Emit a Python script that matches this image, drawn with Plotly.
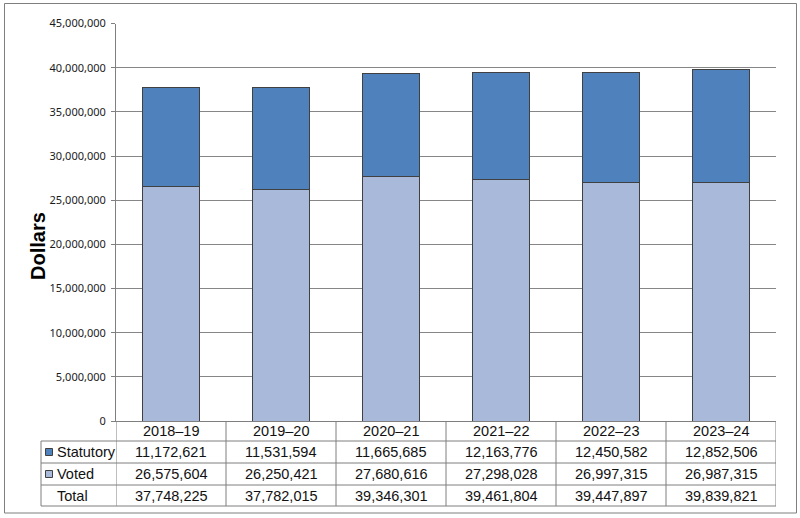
import plotly.graph_objects as go

years = ["2018–19", "2019–20", "2020–21", "2021–22", "2022–23", "2023–24"]
statutory = [11172621, 11531594, 11665685, 12163776, 12450582, 12852506]
voted = [26575604, 26250421, 27680616, 27298028, 26997315, 26987315]
total = [37748225, 37782015, 39346301, 39461804, 39447897, 39839821]
y_ticks = list(range(0, 45000001, 5000000))

W, H = 800, 518
C_STAT = "#4F81BD"
C_VOTED = "#A9B9D9"
GRID = "#868686"
LINE = "#7F7F7F"


def px(x):
    return x / W


def py(y):
    return (H - y) / H


plot_left, plot_right = 116, 776
plot_top, plot_bottom = 23.5, 421

fig = go.Figure()
fig.add_trace(go.Bar(x=years, y=voted, name="Voted", marker=dict(color=C_VOTED, line=dict(color="#404040", width=1)), width=0.52))
fig.add_trace(go.Bar(x=years, y=statutory, name="Statutory", marker=dict(color=C_STAT, line=dict(color="#404040", width=1)), width=0.52))

fig.update_layout(
    width=W, height=H,
    margin=dict(l=0, r=0, t=0, b=0),
    barmode="stack",
    showlegend=False,
    plot_bgcolor="white",
    paper_bgcolor="white",
    font=dict(family="Liberation Sans, Arial", color="black"),
    xaxis=dict(domain=[px(plot_left), px(plot_right)], showticklabels=False, showline=True, automargin=False,
               linecolor=LINE, linewidth=1, ticks="", showgrid=False, range=[-0.5, 5.5], fixedrange=True),
    yaxis=dict(domain=[py(plot_bottom), py(plot_top)], range=[0, 45000000], tickvals=y_ticks, automargin=False,
               tickformat=",", showline=True, linecolor=LINE, linewidth=1, gridcolor=GRID, gridwidth=1,
               ticks="outside", ticklen=4, tickcolor=LINE, zeroline=False, ticklabelstandoff=3,
               tickfont=dict(family="Noto Sans", size=11, color="#1a1a1a")),
)

shapes = []
# outer border
shapes.append(dict(type="rect", xref="paper", yref="paper", x0=px(4.5), x1=px(796.5), y0=py(513), y1=py(3.5),
                   line=dict(color=LINE, width=1)))
# table horizontal lines
for yy in [441, 463, 485, 506]:
    shapes.append(dict(type="line", xref="paper", yref="paper", x0=px(41), x1=px(plot_right), y0=py(yy), y1=py(yy),
                       line=dict(color=LINE, width=1)))
# legend column left border
shapes.append(dict(type="line", xref="paper", yref="paper", x0=px(41), x1=px(41), y0=py(441), y1=py(506),
                   line=dict(color=LINE, width=1)))
# column dividers
for i in range(len(years) + 1):
    shapes.append(dict(type="line", xref="x", yref="paper", x0=i - 0.5, x1=i - 0.5, y0=py(421), y1=py(506),
                       line=dict(color=LINE, width=1)))
# legend squares
for yy, col in [(452, C_STAT), (474, C_VOTED)]:
    shapes.append(dict(type="rect", xref="paper", yref="paper", x0=px(45.5), x1=px(52.5), y0=py(yy + 3.5), y1=py(yy - 3.5),
                       fillcolor=col, line=dict(color="#404040", width=1)))
fig.update_layout(shapes=shapes)

ann = []
tf = dict(family="Liberation Sans, Arial", size=14.5, color="#111111")
rows = [(431, years), (452, [f"{v:,}" for v in statutory]), (474, [f"{v:,}" for v in voted]), (495.5, [f"{v:,}" for v in total])]
for yy, vals in rows:
    for i, t in enumerate(vals):
        ann.append(dict(x=years[i], xref="x", y=py(yy), yref="paper", text=t, showarrow=False,
                        xanchor="center", yanchor="middle", font=tf))
for yy, t in [(452, "Statutory"), (474, "Voted"), (495.5, "Total")]:
    ann.append(dict(x=px(55), xref="paper", y=py(yy), yref="paper", text=t, showarrow=False,
                    xanchor="left", yanchor="middle", font=tf))
ann.append(dict(x=px(38), xref="paper", y=py(246), yref="paper", text="<b>Dollars</b>", textangle=-90,
                showarrow=False, xanchor="center", yanchor="middle",
                font=dict(family="Liberation Sans, Arial", size=20, color="black")))
fig.update_layout(annotations=ann)

fig.write_html("out.html")
